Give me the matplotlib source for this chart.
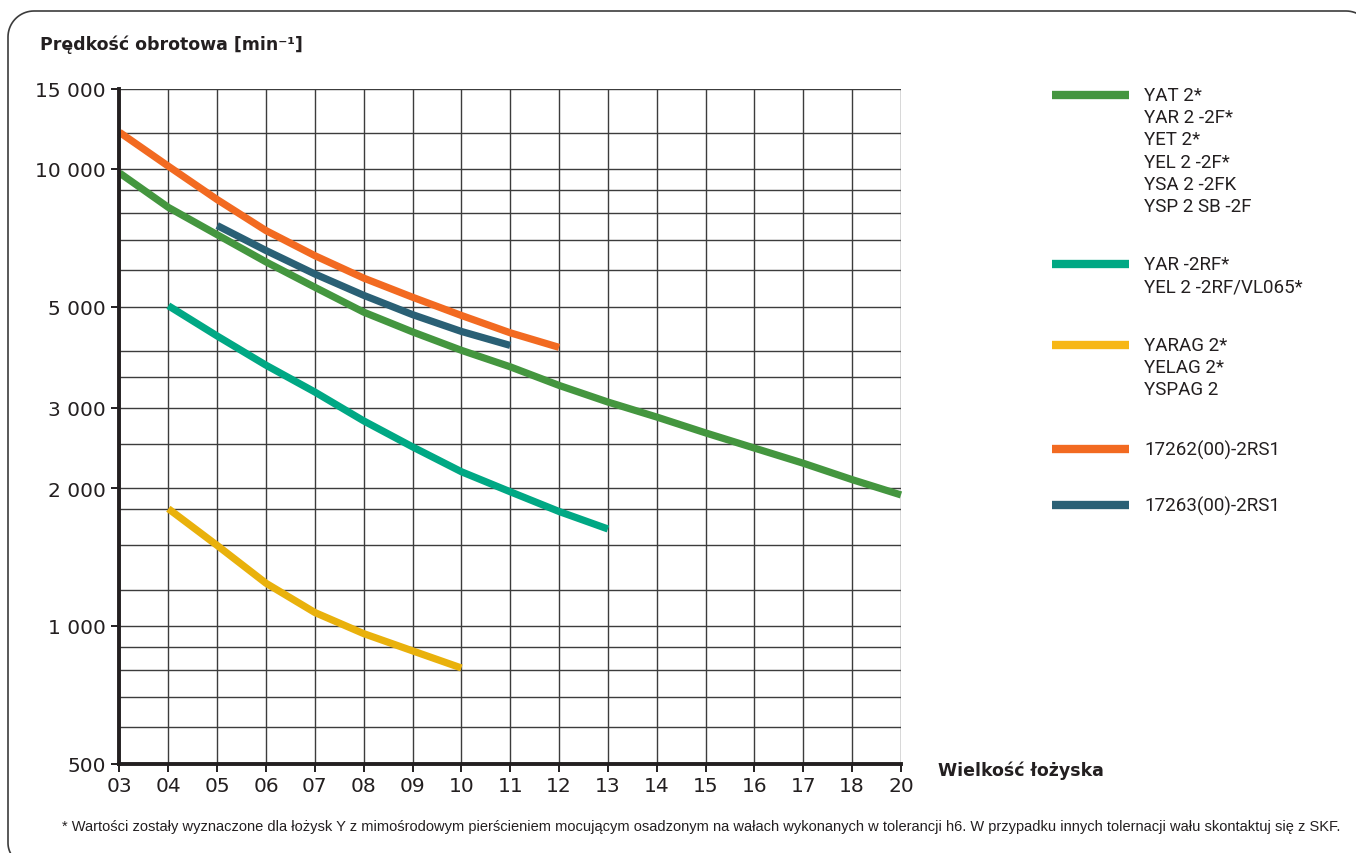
import numpy as np
import matplotlib
matplotlib.use("Agg")
import matplotlib.pyplot as plt
from matplotlib.lines import Line2D

# ---------------- data ----------------
sizes = ['03', '04', '05', '06', '07', '08', '09', '10', '11', '12',
         '13', '14', '15', '16', '17', '18', '20']

yat_sizes = sizes
yat_speed = [9800, 8240, 7180, 6260, 5510, 4860, 4400, 4010, 3690, 3360,
             3090, 2865, 2645, 2450, 2270, 2090, 1935]

yar2rf_sizes = ['04', '05', '06', '07', '08', '09', '10', '11', '12', '13']
yar2rf_speed = [5020, 4310, 3720, 3250, 2810, 2465, 2175, 1966, 1780, 1630]

yarag_sizes = ['04', '05', '06', '07', '08', '09', '10']
yarag_speed = [1805, 1500, 1240, 1070, 962, 882, 809]

s17262_sizes = ['03', '04', '05', '06', '07', '08', '09', '10', '11', '12']
s17262_speed = [12030, 10140, 8570, 7330, 6460, 5770, 5240, 4780, 4380, 4070]

s17263_sizes = ['05', '06', '07', '08', '09', '10', '11']
s17263_speed = [7520, 6630, 5890, 5290, 4800, 4410, 4110]

legend_labels = [
    "YAT 2*\nYAR 2 -2F*\nYET 2*\nYEL 2 -2F*\nYSA 2 -2FK\nYSP 2 SB -2F",
    "YAR -2RF*\nYEL 2 -2RF/VL065*",
    "YARAG 2*\nYELAG 2*\nYSPAG 2",
    "17262(00)-2RS1",
    "17263(00)-2RS1",
]
colors = ['#44963f', '#00a884', '#e9b10c', '#f26a21', '#2a6075']
legend_colors = ['#44963f', '#00a884', '#f7b716', '#f26a21', '#2a6075']

grid_values = [500, 600, 700, 800, 900, 1000, 1200, 1500, 1800, 2000, 2500,
               3000, 3500, 4000, 5000, 6000, 7000, 8000, 9000, 10000, 12000, 15000]
ytick_values = [500, 1000, 2000, 3000, 5000, 10000, 15000]

title_text = "Prędkość obrotowa [min⁻¹]"
xlabel_text = "Wielkość łożyska"
footnote = ("* Wartości zostały wyznaczone dla łożysk Y z mimośrodowym pierścieniem "
            "mocującym osadzonym na wałach wykonanych w tolerancji h6. W przypadku "
            "innych tolernacji wału skontaktuj się z SKF.")

# ---------------- figure ----------------
W, H = 1356, 854
fig = plt.figure(figsize=(W / 100, H / 100), dpi=100)
fig.patch.set_facecolor('white')

def fx(px):
    return px / W

def fy(py):
    return 1 - py / H

ax_l, ax_r, ax_t, ax_b = 119.5, 901, 89.5, 764.5
ax = fig.add_axes([fx(ax_l), fy(ax_b), fx(ax_r - ax_l), (ax_b - ax_t) / H])
ax.set_yscale('log')
ax.set_xlim(0, len(sizes) - 1)
ax.set_ylim(500, 15000)

# grid
gcol = '#3c3c3c'
for v in grid_values:
    ax.axhline(v, color=gcol, lw=1.0, zorder=1)
for i in range(len(sizes)):
    ax.axvline(i, color=gcol, lw=1.0, zorder=1)

series = [
    (yat_sizes, yat_speed),
    (yar2rf_sizes, yar2rf_speed),
    (yarag_sizes, yarag_speed),
    (s17262_sizes, s17262_speed),
    (s17263_sizes, s17263_speed),
]
for (sx, sy), c in zip(series, colors):
    xs = [sizes.index(s) for s in sx]
    ax.plot(xs, sy, color=c, lw=5.2, solid_capstyle='butt',
            solid_joinstyle='round', zorder=3, clip_on=False)

# axes styling
for s in ['top', 'right']:
    ax.spines[s].set_visible(False)
for s in ['left', 'bottom']:
    ax.spines[s].set_linewidth(2.8)
    ax.spines[s].set_color('#231f20')
    ax.spines[s].set_zorder(4)

ax.set_xticks(range(len(sizes)))
ax.set_xticklabels(sizes)
ax.yaxis.set_minor_locator(matplotlib.ticker.NullLocator())
ax.set_yticks(ytick_values)
ax.set_yticklabels([f"{v:,}".replace(',', ' ') for v in ytick_values])
ax.tick_params(axis='both', which='major', length=6, width=1.4, color='#231f20',
               labelsize=14.5, labelcolor='#231f20', direction='out')
ax.tick_params(axis='y', pad=4)
ax.tick_params(axis='x', pad=3)
for lab in ax.get_xticklabels() + ax.get_yticklabels():
    lab.set_fontfamily('DejaVu Sans')

# title and x label
fig.text(fx(40), fy(45), title_text, fontsize=12.5, fontweight='bold',
         color='#231f20', ha='left', va='center')
fig.text(fx(938), fy(771), xlabel_text, fontsize=12.5, fontweight='bold',
         color='#231f20', ha='left', va='center')

# legend (manual)
legend_y = [96, 265, 346, 450, 506]
line_h = 22.2
for lab, c, y in zip(legend_labels, legend_colors, legend_y):
    fig.add_artist(Line2D([fx(1052), fx(1129)], [fy(y), fy(y)], color=c, lw=6,
                          solid_capstyle='butt', transform=fig.transFigure))
    for k, line in enumerate(lab.split('\n')):
        fig.text(fx(1144), fy(y + k * line_h), line, fontsize=13.5,
                 family='Roboto', color='#231f20', ha='left', va='center')

# footnote, fitted to width
ft = fig.text(fx(62), fy(827), footnote, fontsize=9.5,
              family=['Liberation Sans Narrow', 'Liberation Sans', 'DejaVu Sans'],
              color='#231f20', ha='left', va='center')
fig.canvas.draw()
bb = ft.get_window_extent()
target = 1335 - 62
ft.set_fontsize(9.5 * target / bb.width)

# decorative frame (pixel coordinates; right/bottom run off the canvas)
r1, r2, r3 = 26, 26, 22
fl, ftop, fr, fbot = 8, 12, 1372, 866
px, py = [], []
# bottom-left corner
t = np.linspace(np.pi / 2, np.pi, 20)
px += list(fl + r3 + r3 * np.cos(t[::-1] * 0 + np.linspace(3 * np.pi / 2, np.pi, 20)))
py += list(fbot - r3 - r3 * np.sin(np.linspace(3 * np.pi / 2, np.pi, 20)))
# top-left corner
t = np.linspace(np.pi, np.pi / 2, 20)
px += list(fl + r1 + r1 * np.cos(t))
py += list(ftop + r1 - r1 * np.sin(t))
# top-right corner
t = np.linspace(np.pi / 2, 0, 20)
px += list(fr - r2 + r2 * np.cos(t))
py += list(ftop + r2 - r2 * np.sin(t))
fig.add_artist(Line2D([fx(p) for p in px], [fy(p) for p in py], color='#3c3c3c',
                      lw=1.2, transform=fig.transFigure))

fig.savefig('out.png', dpi=100, facecolor='white')
